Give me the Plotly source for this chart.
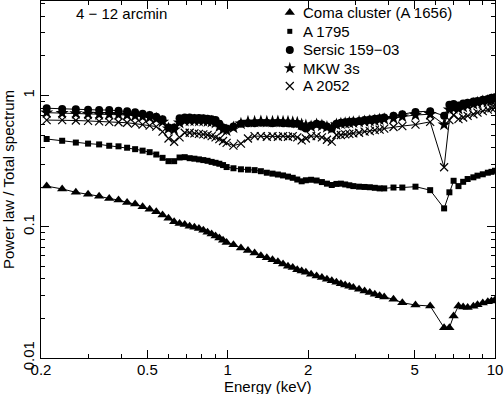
import plotly.graph_objects as go

# energy bins (keV)
energy = [0.21, 0.24, 0.27, 0.30, 0.33, 0.36, 0.39, 0.42, 0.45, 0.48, 0.51, 0.54, 0.57,
          0.60, 0.63, 0.66, 0.69, 0.72, 0.75, 0.78, 0.81, 0.84, 0.87, 0.90, 0.93, 0.96, 0.99,
          1.05, 1.12, 1.19, 1.26, 1.33, 1.40, 1.47, 1.54, 1.61, 1.68, 1.75, 1.82, 1.89, 1.96,
          2.05, 2.15, 2.25, 2.35, 2.45, 2.55, 2.65, 2.75, 2.85, 2.95, 3.1, 3.25, 3.4, 3.55,
          3.7, 3.85, 4.17, 4.5, 5.04, 5.72, 6.45, 6.75, 7.0, 7.3, 7.6, 7.9, 8.3, 8.6, 9.0,
          9.4, 9.7, 10.0]

coma = [0.204, 0.194, 0.183, 0.177, 0.171, 0.164, 0.160, 0.153, 0.149, 0.142, 0.136, 0.130, 0.123,
        0.116, 0.109, 0.106, 0.104, 0.101, 0.099, 0.097, 0.094, 0.091, 0.088, 0.085, 0.082, 0.079, 0.076,
        0.073, 0.069, 0.066, 0.063, 0.060, 0.058, 0.056, 0.054, 0.052, 0.050, 0.049, 0.047, 0.046, 0.045,
        0.0435, 0.0422, 0.041, 0.0398, 0.0387, 0.0377, 0.0368, 0.036, 0.0352, 0.0344, 0.0334, 0.0324, 0.0315, 0.0306,
        0.0298, 0.0292, 0.028, 0.0264, 0.0253, 0.0249, 0.017, 0.017, 0.0209, 0.0249, 0.0245, 0.0242, 0.0248, 0.0254, 0.0262,
        0.0268, 0.0272, 0.0277]

a1795 = [0.466, 0.452, 0.438, 0.430, 0.424, 0.414, 0.410, 0.400, 0.390, 0.380, 0.370, 0.355, 0.335,
         0.316, 0.316, 0.337, 0.339, 0.333, 0.330, 0.326, 0.322, 0.318, 0.312, 0.307, 0.302, 0.295, 0.285,
         0.279, 0.274, 0.272, 0.270, 0.265, 0.258, 0.254, 0.250, 0.246, 0.241, 0.236, 0.229, 0.222, 0.226,
         0.228, 0.225, 0.219, 0.213, 0.208, 0.212, 0.213, 0.210, 0.207, 0.204, 0.202, 0.201, 0.200, 0.198,
         0.196, 0.196, 0.199, 0.199, 0.202, 0.190, 0.138, 0.183, 0.224, 0.204, 0.220, 0.231, 0.238, 0.245, 0.251,
         0.258, 0.262, 0.267]

sersic = [0.80, 0.79, 0.785, 0.78, 0.775, 0.775, 0.765, 0.76, 0.745, 0.725, 0.71, 0.69, 0.66,
          0.57, 0.57, 0.67, 0.68, 0.68, 0.675, 0.675, 0.67, 0.665, 0.66, 0.65, 0.61, 0.57, 0.56,
          0.58, 0.61, 0.615, 0.615, 0.62, 0.62, 0.615, 0.62, 0.615, 0.615, 0.61, 0.61, 0.58, 0.56,
          0.59, 0.61, 0.60, 0.58, 0.56, 0.61, 0.62, 0.625, 0.63, 0.635, 0.64, 0.65, 0.655, 0.665,
          0.67, 0.68, 0.70, 0.72, 0.75, 0.76, 0.70, 0.85, 0.86, 0.84, 0.87, 0.88, 0.90, 0.91, 0.93,
          0.94, 0.96, 0.97]

mkw3s = [0.74, 0.735, 0.73, 0.725, 0.72, 0.72, 0.715, 0.71, 0.70, 0.69, 0.68, 0.665, 0.63,
         0.56, 0.55, 0.62, 0.64, 0.645, 0.645, 0.64, 0.64, 0.635, 0.63, 0.62, 0.58, 0.55, 0.54,
         0.57, 0.61, 0.63, 0.63, 0.635, 0.63, 0.63, 0.635, 0.63, 0.63, 0.625, 0.62, 0.60, 0.59,
         0.58, 0.60, 0.59, 0.575, 0.56, 0.60, 0.61, 0.615, 0.62, 0.625, 0.63, 0.635, 0.64, 0.645,
         0.655, 0.66, 0.67, 0.69, 0.71, 0.72, 0.60, 0.78, 0.80, 0.79, 0.82, 0.84, 0.86, 0.88, 0.90,
         0.91, 0.92, 0.93]

a2052 = [0.65, 0.65, 0.645, 0.64, 0.635, 0.63, 0.625, 0.62, 0.61, 0.60, 0.59, 0.58, 0.53,
         0.47, 0.444, 0.48, 0.52, 0.52, 0.515, 0.51, 0.505, 0.50, 0.49, 0.48, 0.465, 0.45, 0.435,
         0.415, 0.43, 0.47, 0.49, 0.49, 0.485, 0.49, 0.485, 0.49, 0.485, 0.49, 0.48, 0.455, 0.47,
         0.49, 0.49, 0.48, 0.46, 0.445, 0.50, 0.50, 0.505, 0.51, 0.515, 0.52, 0.53, 0.535, 0.545,
         0.55, 0.56, 0.575, 0.585, 0.60, 0.63, 0.284, 0.65, 0.71, 0.66, 0.68, 0.70, 0.72, 0.74, 0.76,
         0.78, 0.80, 0.81]

names = ["Coma cluster (A 1656)", "A 1795", "Sersic 159\u221203", "MKW 3s", "A 2052"]
series = [coma, a1795, sersic, mkw3s, a2052]
symbols = ["triangle-up", "square", "circle", "star", "x-thin"]
sizes = [9, 6, 8, 10, 8]

x_major = [0.2, 0.5, 1, 2, 5, 10]
x_minor = [0.3, 0.4, 0.6, 0.7, 0.8, 0.9, 3, 4, 6, 7, 8, 9]
y_major = [0.01, 0.1, 1]
y_minor = [0.02, 0.03, 0.04, 0.05, 0.06, 0.07, 0.08, 0.09,
           0.2, 0.3, 0.4, 0.5, 0.6, 0.7, 0.8, 0.9, 2, 3, 4, 5]

font = "Liberation Sans, Arial, Helvetica, sans-serif"

fig = go.Figure()

# hand-made legend: markers on a hidden overlay axis, labels as annotations
leg_x, leg_text_x = 0.548, 0.572
leg_y = [0.968, 0.915, 0.863, 0.812, 0.762]

for i, (name, vals, sym, sz) in enumerate(zip(names, series, symbols, sizes)):
    marker = dict(symbol=sym, size=sz, color="black")
    if sym == "x-thin":
        marker["line"] = dict(color="black", width=1.2)
    fig.add_trace(go.Scatter(x=energy, y=vals, mode="lines+markers", marker=marker,
                             line=dict(color="black", width=1), showlegend=False))
    lm = dict(marker)
    lm["size"] = sz - 1 if sym in ("square", "star") else sz
    fig.add_trace(go.Scatter(x=[leg_x], y=[leg_y[i]], mode="markers", marker=lm,
                             xaxis="x2", yaxis="y2", showlegend=False, hoverinfo="skip"))
    fig.add_annotation(text=name, x=leg_text_x, y=leg_y[i], xref="paper", yref="paper",
                       xanchor="left", yanchor="middle", showarrow=False,
                       font=dict(size=15, color="black"))

fig.add_annotation(text="4 \u2212 12 arcmin", x=0.072, y=0.966, xref="paper", yref="paper",
                   xanchor="left", yanchor="middle", showarrow=False, font=dict(size=15, color="black"))

# x title as an annotation so it can sit just under the tick labels
fig.add_annotation(text="Energy (keV)", x=0.5, y=-0.081, xref="paper", yref="paper",
                   xanchor="center", yanchor="middle", showarrow=False,
                   font=dict(size=15, color="black"))

axis_common = dict(type="log", showline=True, linecolor="black", linewidth=1, mirror="allticks",
                   ticks="inside", ticklen=8, tickcolor="black", showgrid=False, zeroline=False,
                   automargin=False, tickfont=dict(size=15, color="black"))

fig.update_xaxes(**axis_common, range=[-0.699, 1], tickmode="array", tickvals=x_major,
                 ticktext=["0.2", "0.5", "1", "2", "5", "10"], ticklabelstandoff=-2,
                 minor=dict(tickvals=x_minor, ticks="inside", ticklen=4, tickcolor="black"))
fig.update_yaxes(**axis_common, range=[-2, 0.72], tickmode="array", tickvals=y_major,
                 ticktext=["0.01", "0.1", "1"], tickangle=-90,
                 minor=dict(tickvals=y_minor, ticks="inside", ticklen=4, tickcolor="black"),
                 title=dict(text="Power law / Total spectrum", font=dict(size=15, color="black"), standoff=2))

fig.update_layout(
    width=504, height=394,
    margin=dict(l=41, r=9, t=1, b=36),
    paper_bgcolor="white", plot_bgcolor="white",
    font=dict(family=font, size=15, color="black"),
    showlegend=False,
    xaxis2=dict(overlaying="x", range=[0, 1], visible=False, fixedrange=True),
    yaxis2=dict(overlaying="y", range=[0, 1], visible=False, fixedrange=True),
)

# the page body has an 8px default margin; drop it so the figure sits at the corner
fig.write_html("out.html", config={"displayModeBar": False},
               post_script="document.body.style.margin='0';")
